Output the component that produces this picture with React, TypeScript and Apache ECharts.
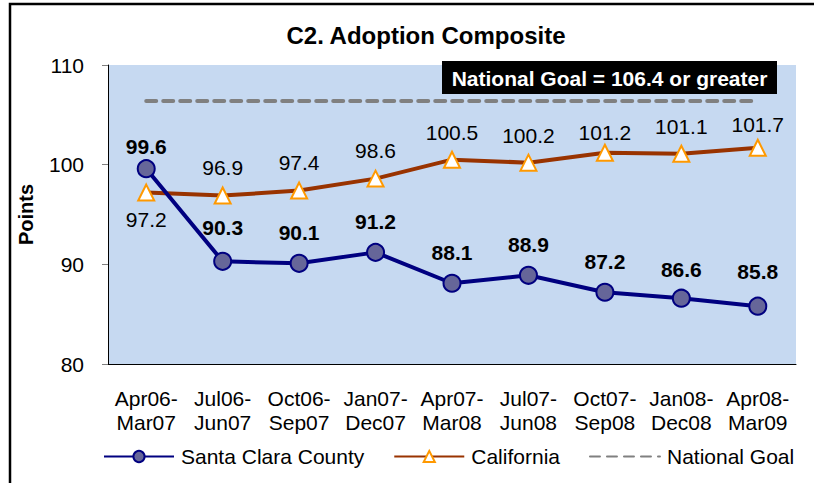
import React, { useEffect, useRef } from "react";
import * as echarts from "echarts";

const categories = [
  "Apr06-\nMar07",
  "Jul06-\nJun07",
  "Oct06-\nSep07",
  "Jan07-\nDec07",
  "Apr07-\nMar08",
  "Jul07-\nJun08",
  "Oct07-\nSep08",
  "Jan08-\nDec08",
  "Apr08-\nMar09",
];
const santaClara = [99.6, 90.3, 90.1, 91.2, 88.1, 88.9, 87.2, 86.6, 85.8];
const california = [97.2, 96.9, 97.4, 98.6, 100.5, 100.2, 101.2, 101.1, 101.7];
const nationalGoalValue = 106.4;
const nationalGoal = categories.map(() => nationalGoalValue);
const yTicks = [80, 90, 100, 110];

const FONT = "'Liberation Sans', Arial, sans-serif";

export default function App() {
  const ref = useRef<HTMLDivElement>(null);
  useEffect(() => {
    document.body.style.margin = "0";
    const chart = echarts.init(ref.current!, null, { renderer: "svg" });
    const scDist = [2, 14, 11, 11, 11, 11, 11, 9, 15];
    const caDist = [7, 9, 9, 9, 8, 8, 1, 8, 4];
    chart.setOption({
      animation: false,
      textStyle: { fontFamily: FONT },
      title: {
        text: "C2. Adoption Composite",
        left: 421,
        textAlign: "center",
        top: 18,
        textStyle: { fontSize: 24, fontWeight: "bold", color: "#000", fontFamily: FONT },
      },
      grid: {
        left: 108,
        right: 18,
        top: 65,
        bottom: 119,
        show: true,
        backgroundColor: "#C6D9F1",
        borderWidth: 0,
      },
      legend: {
        left: 103,
        top: 446,
        padding: 0,
        itemWidth: 70,
        itemHeight: 14,
        itemGap: 29,
        textStyle: { fontSize: 21, color: "#000", fontFamily: FONT, padding: [0, 0, 0, 2] },
        data: [
          "Santa Clara County",
          "California",
          { name: "National Goal", itemStyle: { opacity: 0 } },
        ],
      },
      xAxis: {
        type: "category",
        data: categories,
        boundaryGap: true,
        axisLine: { lineStyle: { color: "#000", width: 1 } },
        axisTick: { alignWithLabel: true, inside: true, length: 5, lineStyle: { color: "#808080" } },
        axisLabel: { fontSize: 21, color: "#000", lineHeight: 24, margin: 22, fontFamily: FONT, interval: 0 },
      },
      yAxis: {
        type: "value",
        min: yTicks[0],
        max: yTicks[yTicks.length - 1],
        interval: 10,
        name: "Points",
        nameLocation: "middle",
        nameGap: 72,
        nameTextStyle: { fontSize: 20, fontWeight: "bold", color: "#000", fontFamily: FONT },
        axisLine: { show: true, lineStyle: { color: "#000", width: 1 } },
        axisTick: { show: true, length: 6, lineStyle: { color: "#808080" } },
        axisLabel: { fontSize: 21, color: "#000", margin: 24, fontFamily: FONT },
        splitLine: { show: false },
      },
      graphic: [
        {
          type: "rect",
          shape: { x: 10, y: 4, width: 900, height: 700 },
          style: { fill: "none", stroke: "#000", lineWidth: 2.5 },
          z: 100,
        },
        {
          type: "group",
          x: 442,
          y: 61,
          z: 50,
          children: [
            { type: "rect", shape: { x: 0, y: 0, width: 335, height: 33 }, style: { fill: "#000" } },
            {
              type: "text",
              x: 167.5,
              y: 17,
              style: {
                text: "National Goal = 106.4 or greater",
                fill: "#fff",
                font: `bold 21px ${FONT}`,
                align: "center",
                verticalAlign: "middle",
              },
            },
          ],
        },
      ],
      series: [
        {
          name: "National Goal",
          type: "line",
          data: nationalGoal,
          symbol: "none",
          lineStyle: { color: "#808080", width: 4, type: [10, 7], cap: "round" },
          itemStyle: { color: "#808080" },
          z: 1,
        },
        {
          name: "California",
          type: "line",
          data: california.map((v, i) => ({
            value: v,
            label: { position: i === 0 ? "bottom" : "top", distance: caDist[i] },
          })),
          symbol: "triangle",
          symbolSize: 16,
          lineStyle: { color: "#993300", width: 4 },
          itemStyle: { color: "#fff", borderColor: "#FF9900", borderWidth: 2 },
          label: { show: true, fontSize: 21, color: "#000", fontFamily: FONT },
          z: 3,
        },
        {
          name: "Santa Clara County",
          type: "line",
          data: santaClara.map((v, i) => ({ value: v, label: { distance: scDist[i] } })),
          symbol: "circle",
          symbolSize: 17,
          lineStyle: { color: "#000080", width: 4 },
          itemStyle: { color: "#666699", borderColor: "#000080", borderWidth: 2 },
          label: { show: true, position: "top", fontSize: 21, fontWeight: "bold", color: "#000", fontFamily: FONT },
          z: 4,
        },
      ],
    });
    return () => chart.dispose();
  }, []);
  return <div ref={ref} style={{ position: "absolute", left: 0, top: 0, width: 814, height: 483 }} />;
}
